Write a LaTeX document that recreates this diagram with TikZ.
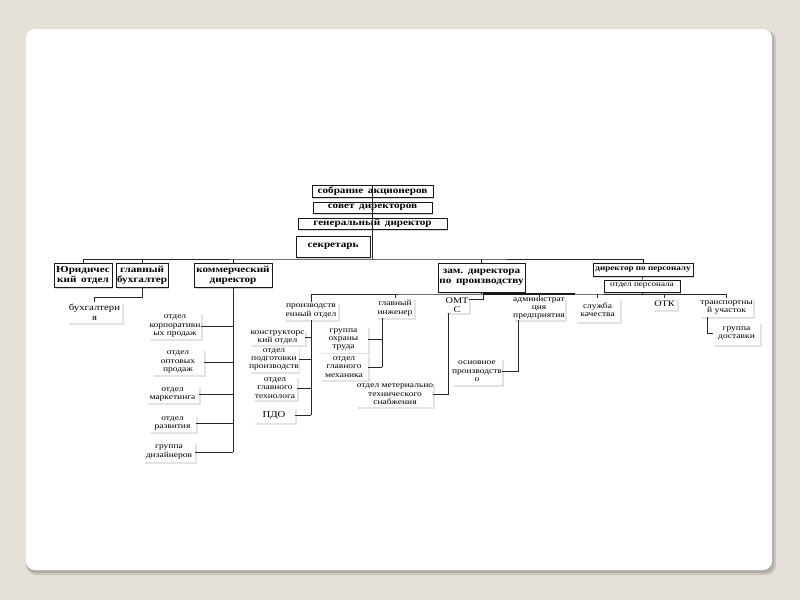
\documentclass[tikz,border=0pt]{standalone}
\usepackage{fontspec}
\setmainfont{Liberation Serif}[FakeStretch=1.2]
\usetikzlibrary{shadows,calc}
\definecolor{bgc}{RGB}{230,225,216}
\tikzset{
  mainbox/.style={draw=black!90, line width=0.75pt, fill=white, inner sep=0pt, align=center,
    font=\bfseries\fontsize{9.3}{9.8}\selectfont,
    drop shadow={shadow xshift=1.3pt, shadow yshift=-1.5pt, opacity=0.3}},
  subbox/.style={fill=white, inner sep=0pt, align=center,
    font=\fontsize{7.9}{8.4}\selectfont,
    drop shadow={shadow xshift=1.5pt, shadow yshift=-2pt, opacity=0.22}},
  conn/.style={draw=black!85, line width=0.7pt},
  thickconn/.style={draw=black!90, line width=1.5pt},
}
\begin{document}
\begin{tikzpicture}[x=1pt,y=-1pt]
\useasboundingbox (0,0) rectangle (800,600);
\fill[bgc] (0,0) rectangle (800,600);
\fill[black, opacity=0.12, rounded corners=10pt] (26,30) rectangle (776,575);
\fill[black, opacity=0.12, rounded corners=9pt] (27,31) rectangle (774,573);
\fill[white, rounded corners=9pt] (26,29) rectangle (772,570);

% top chain
\node[mainbox, minimum width=121, minimum height=12] (sobr) at (372.5,191) {собрание\enspace акционеров};
\node[mainbox, minimum width=119, minimum height=11] (sovet) at (372.5,207.5) {совет\enspace директоров};
\node[mainbox, minimum width=149, minimum height=11] (gen) at (372.5,223.5) {генеральный\enspace директор};
\node[mainbox, line width=0.9pt, minimum width=74, minimum height=21] (sekr) at (333,246.5) {секретарь};

% second row
\node[mainbox, minimum width=58, minimum height=24] (jur) at (83,275) {Юридичес\\кий\enspace отдел};
\node[mainbox, minimum width=52, minimum height=24] (glbuh) at (142,275) {главный\\бухгалтер};
\node[mainbox, minimum width=78, minimum height=24] (kom) at (233,275) {коммерческий\\директор};
\node[mainbox, minimum width=87, minimum height=29] (zam) at (481.5,277.5) {зам.\enspace директора\\по\enspace производству};
\node[mainbox, font=\bfseries\fontsize{7.6}{8}\selectfont, minimum width=100, minimum height=13] (dirp) at (643,269.5) {директор по персоналу};
\node[mainbox, font=\fontsize{7.6}{8}\selectfont, minimum width=76, minimum height=12] (otdp) at (642,286) {отдел персонала};

% accounting
\node[subbox, font=\fontsize{9}{10.5}\selectfont, minimum width=55, minimum height=21] (buh) at (94.5,312.5) {бухгалтери\\я};

% commercial
\node[subbox, minimum width=52, minimum height=26] (korp) at (175,326) {отдел\\корпоративн\\ых продаж};
\node[subbox, minimum width=52, minimum height=26] (opt) at (178,362) {отдел\\оптовых\\продаж};
\node[subbox, minimum width=53, minimum height=17] (mark) at (172.5,394.5) {отдел\\маркетинга};
\node[subbox, minimum width=47, minimum height=17] (razv) at (172.5,423.5) {отдел\\развития};
\node[subbox, minimum width=52, minimum height=20] (diz) at (169,452) {группа\\дизайнеров};

% production dept
\node[subbox, minimum width=54, minimum height=18] (prod) at (311,311) {производств\\енный отдел};
\node[subbox, minimum width=55, minimum height=15] (konstr) at (277.5,337.5) {конструкторс\\кий отдел};
\node[subbox, minimum width=48, minimum height=25] (podg) at (274,359.5) {отдел\\подготовки\\производств};
\node[subbox, minimum width=44, minimum height=24] (tehn) at (275,388) {отдел\\главного\\технолога};
\node[subbox, font=\fontsize{9}{10}\selectfont, minimum width=42, minimum height=16] (pdo) at (274,415) {ПДО};

% chief engineer
\node[subbox, minimum width=38, minimum height=20] (gi) at (395,308) {главный\\инженер};
\node[subbox, minimum width=49, minimum height=27] (ohr) at (343.5,339.5) {группа\\охраны\\труда};
\node[subbox, minimum width=48, minimum height=26] (meh) at (344,367) {отдел\\главного\\механика};

% OMTS
\node[subbox, font=\fontsize{8.5}{8.8}\selectfont, minimum width=24, minimum height=15] (omts) at (457,305.5) {ОМТ\\С};
\node[subbox, minimum width=74, minimum height=25] (snab) at (395,394.5) {отдел метериально\\технического\\снабжения};

% administration
\node[subbox, minimum width=52, minimum height=23] (adm) at (539,308.5) {администрат\\ция\\предприятия};
\node[subbox, minimum width=50, minimum height=27] (osn) at (477,371.5) {основное\\производств\\о};

% right side
\node[subbox, minimum width=45, minimum height=24] (kach) at (597.5,310) {служба\\качества};
\node[subbox, font=\fontsize{8.5}{9}\selectfont, minimum width=25, minimum height=12] (otk) at (664.5,304) {ОТК};
\node[subbox, minimum width=53, minimum height=19] (trans) at (726.5,307.5) {транспортны\\й участок};
\node[subbox, minimum width=47, minimum height=23] (dost) at (736.5,333.5) {группа\\доставки};

% connectors
\coordinate (trunk) at (373,259);
\coordinate (bk) at (0,297);
\coordinate (zbar) at (483,294);
\coordinate (gix) at (382,0);
\coordinate (omx) at (448,0);
\coordinate (adx) at (518,0);
\coordinate (trx) at (707,0);

\draw[conn] (sobr.north) -- (sobr.north |- trunk);
\draw[conn] (jur.north) |- (trunk) -| (dirp.north);
\foreach \n in {glbuh,kom,zam} \draw[conn] (\n.north) -- (\n.north |- trunk);
\draw[conn] (dirp.south) -- (otdp.north);

\draw[conn] (glbuh.south) -- (glbuh.south |- bk) -| (buh.north);

\draw[conn] (kom.south) -- (kom.south |- diz.east);
\foreach \n in {korp,opt,mark,razv,diz} \draw[conn] (\n.east) -- (\n.east -| kom.south);

\draw[conn] (zam.south) -- (zam.south |- zbar);
\draw[conn] (prod.north) |- (zbar) -| (trans.north);
\draw[thickconn] (zbar) -- (kach.north west |- zbar);
\foreach \n in {gi,adm,kach,otk} \draw[conn] (\n.north) -- (\n.north |- zbar);
\draw[conn] (otdp.south) -- (otdp.south |- zbar);
\draw[conn] (zbar) |- ([yshift=-2pt]omts.north east);

\draw[conn] (prod.south) -- (prod.south |- pdo.east);
\foreach \n in {konstr,podg,tehn,pdo} \draw[conn] (\n.east) -- (\n.east -| prod.south);

\draw[conn] (gi.south -| gix) -- (gix |- meh.east);
\foreach \n in {ohr,meh} \draw[conn] (\n.east) -- (\n.east -| gix);

\draw[conn] (omts.south -| omx) -- (omx |- snab.east) -- (snab.east);
\draw[conn] (adm.south -| adx) -- (adx |- osn.east) -- (osn.east);
\draw[conn] (trans.south -| trx) |- (dost.west);
\end{tikzpicture}
\end{document}
